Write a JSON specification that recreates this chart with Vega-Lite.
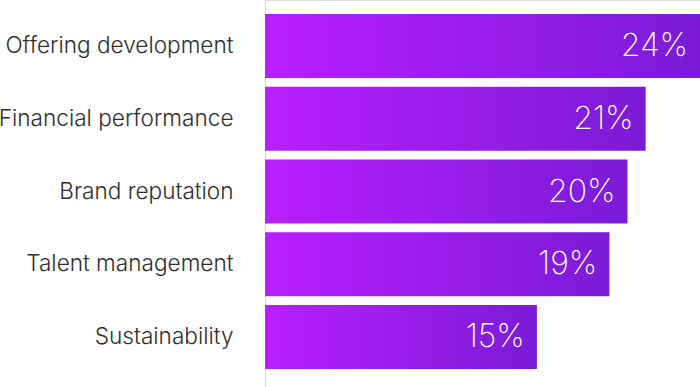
{
  "$schema": "https://vega.github.io/schema/vega-lite/v6.json",
  "width": 435,
  "height": 387,
  "autosize": "none",
  "padding": {"left": 265, "top": 0, "right": 0, "bottom": 0},
  "background": "white",
  "data": {"values": [
    {"category": "Offering development", "value": 0.24},
    {"category": "Financial performance", "value": 0.21},
    {"category": "Brand reputation", "value": 0.20},
    {"category": "Talent management", "value": 0.19},
    {"category": "Sustainability", "value": 0.15}
  ]},
  "encoding": {
    "y": {"field": "category", "type": "nominal", "sort": null,
      "scale": {"paddingInner": 0.12, "paddingOuter": 0.22, "align": 0.44},
      "axis": {"title": null, "ticks": false, "labelPadding": 32, "labelFontSize": 22.6, "labelFont": "Inter", "labelFontWeight": 300, "labelColor": "#2e2e2e", "domainColor": "#d4d4d4", "domainWidth": 1, "labelLimit": 300}},
    "x": {"field": "value", "type": "quantitative", "scale": {"domain": [0, 0.24], "nice": false}, "axis": null}
  },
  "layer": [
    {"mark": {"type": "bar", "cornerRadius": 0, "color": {"gradient": "linear", "x1": 0, "x2": 1, "y1": 0, "y2": 0, "stops": [{"offset": 0, "color": "#b81ffe"}, {"offset": 1, "color": "#7a1bd6"}]}}},
    {"mark": {"type": "text", "align": "right", "baseline": "middle", "dx": -12, "fontSize": 32, "font": "Inter", "fontWeight": 250, "color": "white"},
     "encoding": {"text": {"field": "value", "type": "quantitative", "format": ".0%"}}}
  ]
}
